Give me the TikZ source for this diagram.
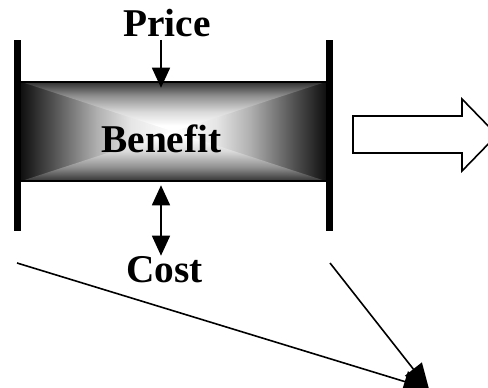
\documentclass[tikz,border=0pt]{standalone}
\usepackage{fontspec}
\setmainfont{Liberation Serif}
\usetikzlibrary{arrows.meta,calc,positioning}
\tikzstyle{word}=[font=\bfseries\fontsize{29.5}{35}\selectfont, inner sep=0pt, anchor=base]
\tikzstyle{bar}=[rectangle, fill=black, inner sep=0pt, minimum width=5.25pt, minimum height=143.25pt]
\tikzstyle{wire}=[line width=1.2pt]
\pgfdeclarehorizontalshading{sideshade}{100bp}{color(0bp)=(black!94); color(25bp)=(black!94); color(36bp)=(black!67); color(50bp)=(black!31); color(61bp)=(black!10); color(75bp)=(white); color(100bp)=(white)}
\pgfdeclareverticalshading{capshade}{100bp}{color(0bp)=(white); color(31bp)=(white); color(45bp)=(black!15); color(61bp)=(black!44); color(75bp)=(black!81); color(100bp)=(black!81)}

\begin{document}
\begin{tikzpicture}[x=0.75pt, y=-0.75pt, >={Triangle[length=15pt,width=13.5pt]}]
    \useasboundingbox (0,0) rectangle (488,388);

    \node[rectangle, inner sep=0pt, minimum width=228.75pt, minimum height=74.25pt](box) at (173.5,131.5){};
    % side halves first, then the top and bottom wedges over them
    \shade[shading=sideshade] (box.north west) rectangle (box.south);
    \shade[shading=sideshade, shading angle=180] (box.north) rectangle (box.south east);
    \shade[shading=capshade] (box.north west) -- (box.center) -- (box.north east) -- cycle;
    \shade[shading=capshade, shading angle=180] (box.south west) -- (box.center) -- (box.south east) -- cycle;
    \draw[wire](box.north west) -- (box.north east);
    \draw[wire](box.south west) -- (box.south east);

    \node[bar](leftbar) at (17.5,135.5){};
    \node[bar](rightbar) at (329.5,135.5){};

    \node[word](price) at (167,37){Price};
    \node[word](benefit) at (161.5,153){Benefit};
    \node[word](cost) at (164.5,282){Cost};

    \coordinate (ptop) at (161,40);
    \draw[wire,->, shorten >=-4.5pt](ptop) -- (ptop |- box.north);
    \draw[wire,<->]($(ptop |- box.south)+(0,4)$) -- (ptop |- cost.north);

    % hollow arrow to the right
    \draw[wire, fill=white] (353,116) -- (462,116) -- (462,99) -- (497,135) -- (462,171) -- (462,153) -- (353,153) -- cycle;

    \coordinate (lfoot) at (17,263);
    \coordinate (rfoot) at (330,263);
    \coordinate (goal) at (429,389);
    \draw[wire,-{Triangle[length=19pt,width=16pt]}](lfoot) -- (goal);
    \draw[wire,-{Triangle[length=19pt,width=16pt]}](rfoot) -- (goal);
\end{tikzpicture}
\end{document}
